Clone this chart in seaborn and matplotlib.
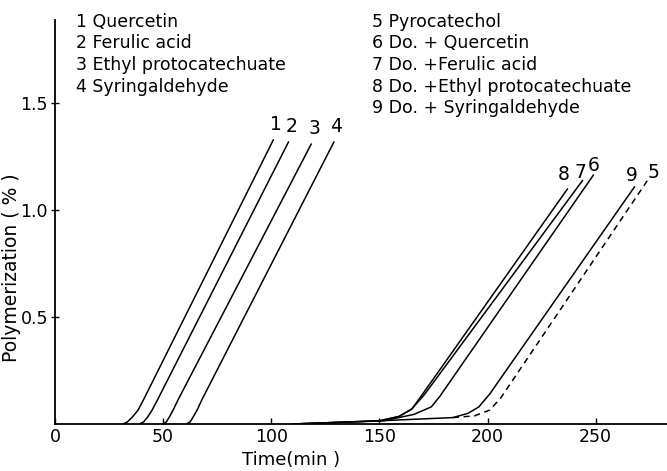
import matplotlib
matplotlib.use("Agg")
import matplotlib.pyplot as plt
import seaborn as sns
import pandas as pd

sns.set_theme(style="ticks")
plt.rcParams['font.family'] = ['DejaVu Sans']
plt.rcParams['text.color'] = 'black'
plt.rcParams['axes.labelcolor'] = 'black'
plt.rcParams['xtick.color'] = 'black'
plt.rcParams['ytick.color'] = 'black'

# ---- data ----
t1 = [31.5, 33.5, 36, 38.4, 41, 101]
y1 = [0.0, 0.01, 0.035, 0.065, 0.115, 1.33]
t2 = [39, 41, 43, 44.9, 47.5, 108]
y2 = [0.0, 0.01, 0.035, 0.065, 0.115, 1.32]
t3 = [50, 51.5, 53, 54.6, 57, 118.5]
y3 = [0.0, 0.01, 0.035, 0.065, 0.115, 1.31]
t4 = [60.8, 62.5, 64, 65.7, 68, 129]
y4 = [0.0, 0.01, 0.035, 0.065, 0.115, 1.32]

t5 = [184, 194, 201, 206, 274]
y5 = [0.03, 0.038, 0.065, 0.12, 1.14]
t6 = [110, 152, 166, 174, 178, 249]
y6 = [0.0, 0.015, 0.045, 0.08, 0.13, 1.165]
t7 = [110, 150, 159, 165, 171, 244]
y7 = [0.0, 0.015, 0.035, 0.07, 0.14, 1.14]
t8 = [110, 150, 159, 165, 170, 237]
y8 = [0.0, 0.015, 0.035, 0.07, 0.14, 1.10]
t9 = [150, 184, 191, 196, 201, 268]
y9 = [0.015, 0.03, 0.05, 0.08, 0.14, 1.11]

curve_ids = ["1", "2", "3", "4", "5", "6", "7", "8", "9"]
legend_left = ["1 Quercetin", "2 Ferulic acid", "3 Ethyl protocatechuate", "4 Syringaldehyde"]
legend_right = ["5 Pyrocatechol", "6 Do. + Quercetin", "7 Do. +Ferulic acid",
                "8 Do. +Ethyl protocatechuate", "9 Do. + Syringaldehyde"]
xticks = [0, 50, 100, 150, 200, 250]
yticks = [0.5, 1.0, 1.5]
ytick_labels = ["0.5", "1.0", "1.5"]

series = {"1": (t1, y1), "2": (t2, y2), "3": (t3, y3), "4": (t4, y4),
          "5": (t5, y5), "6": (t6, y6), "7": (t7, y7), "8": (t8, y8), "9": (t9, y9)}
# label offsets from line ends, in pixels
label_off = {"1": (3, 15), "2": (3, 15), "3": (3, 15), "4": (2, 15),
             "5": (6, 8), "6": (0, 9), "7": (-2, 8), "8": (-4, 14), "9": (-3, 11)}

W, H = 667, 471
fig = plt.figure(figsize=(W / 100, H / 100), dpi=100)
ax = fig.add_axes([55 / W, (H - 424) / H, (W - 55) / W, (424 - 20) / H])

for cid in curve_ids:
    t, y = series[cid]
    df = pd.DataFrame({"t": t, "y": y})
    sns.lineplot(data=df, x="t", y="y", ax=ax, color="black", lw=1.1,
                 sort=False, estimator=None,
                 linestyle=(0, (4, 3)) if cid == "5" else "-")
    dx, dy = label_off[cid]
    ax.annotate(cid, xy=(t[-1], y[-1]), xytext=(dx * 0.72, dy * 0.72),
                textcoords="offset points", fontsize=13.5, ha="center", va="center")

ax.set_xlim(0, 283)
ax.set_ylim(0, 1.89)
ax.set_xticks(xticks)
ax.set_xticklabels([str(v) for v in xticks])
ax.set_yticks(yticks)
ax.set_yticklabels(ytick_labels)
ax.tick_params(axis="x", direction="in", length=4, width=1, labelsize=12.5, pad=3)
ax.tick_params(axis="y", direction="inout", length=6, width=1, labelsize=12.5, pad=2)
for s in ["top", "right"]:
    ax.spines[s].set_visible(False)
for s in ["left", "bottom"]:
    ax.spines[s].set_color("black")
    ax.spines[s].set_linewidth(1.3)

ax.set_xlabel("Time(min )", fontsize=13)
ax.set_ylabel("Polymerization ( % )", fontsize=13.5)
ax.xaxis.set_label_coords((291 - 55) / (W - 55), -27 / (424 - 20))
ax.yaxis.set_label_coords((21 - 55) / (W - 55), (424 - 268) / (424 - 20))

rows = [22, 43.5, 65, 86.5, 108]
for i, s in enumerate(legend_left):
    fig.text(76 / W, 1 - rows[i] / H, s, fontsize=12.5, va="center", ha="left")
for i, s in enumerate(legend_right):
    fig.text(372 / W, 1 - rows[i] / H, s, fontsize=12.5, va="center", ha="left")

fig.savefig("out.png", dpi=100)
